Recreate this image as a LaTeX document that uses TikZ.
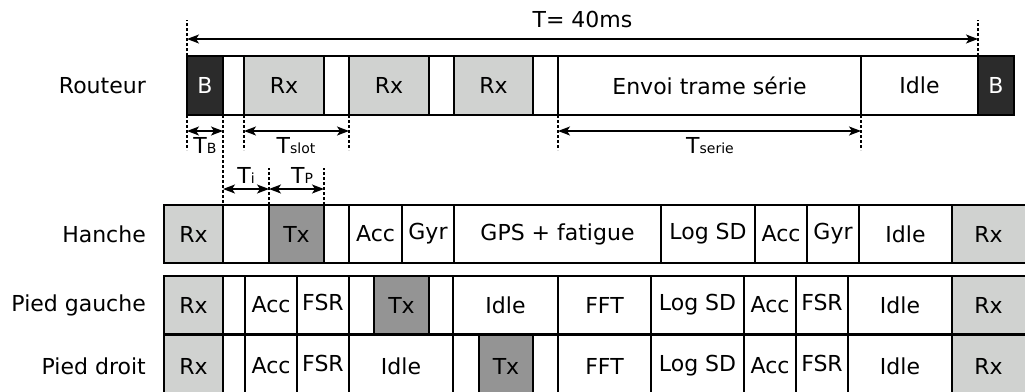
\documentclass[tikz,border=0pt]{standalone}
\usepackage{fontspec}
\setmainfont{DejaVu Sans}
\usetikzlibrary{arrows.meta}
\definecolor{rxgray}{RGB}{208,210,208}
\definecolor{bdark}{RGB}{43,43,43}
\definecolor{txgray}{RGB}{148,148,148}
\newcommand{\slotbox}[7]{\node[#2, minimum width={(#4-#3)*1pt}, minimum height={#6*1pt}] (#1) at (#3,#5) {#7};}
\newcommand{\subtxt}[1]{{\fontsize{14}{14}\selectfont #1}}
\newcommand{\fsr}{FSR\vphantom{g}}
\begin{document}
\begin{tikzpicture}[x=1pt,y=-1pt,
  cell/.style={draw=black, line width=1.8pt, anchor=north west, inner sep=0pt, outer sep=0pt, font=\fontsize{22}{26}\selectfont},
  rx/.style={cell, fill=rxgray},
  tx/.style={cell, fill=txgray},
  bb/.style={cell, fill=bdark, text=white},
  wh/.style={cell, fill=white},
  rowlabel/.style={anchor=east, inner sep=0pt, font=\fontsize{22}{26}\selectfont},
  dimlabel/.style={anchor=base, inner sep=0pt, font=\fontsize{22}{26}\selectfont},
  dimarrow/.style={line width=1.4pt, {Stealth[length=12pt,width=9pt,inset=3pt]}-{Stealth[length=12pt,width=9pt,inset=3pt]}},
  guide/.style={line width=1.1pt, dash pattern=on 3pt off 2pt}]
\useasboundingbox (0,0) rectangle (1025,391);
\clip (0,0) rectangle (1025,391);

% Routeur row
\slotbox{rB1}{bb}{187}{223}{56}{59}{B}
\slotbox{rW1}{wh}{223}{244}{56}{59}{}
\slotbox{rRx1}{rx}{244}{324}{56}{59}{Rx}
\slotbox{rW2}{wh}{324}{349}{56}{59}{}
\slotbox{rRx2}{rx}{349}{429}{56}{59}{Rx}
\slotbox{rW3}{wh}{429}{454}{56}{59}{}
\slotbox{rRx3}{rx}{454}{533}{56}{59}{Rx}
\slotbox{rW4}{wh}{533}{558}{56}{59}{}
\slotbox{rEnv}{wh}{558}{861}{56}{59}{Envoi trame série}
\slotbox{rIdle}{wh}{861}{978}{56}{59}{Idle}
\slotbox{rB2}{bb}{978}{1014}{56}{59}{B}

% Hanche row
\slotbox{hRx1}{rx}{164}{223}{205}{58}{Rx}
\slotbox{hW1}{wh}{223}{269}{205}{58}{}
\slotbox{hTx}{tx}{269}{324}{205}{58}{Tx}
\slotbox{hW2}{wh}{324}{349}{205}{58}{}
\slotbox{hAcc1}{wh}{349}{402}{205}{58}{Acc}
\slotbox{hGyr1}{wh}{402}{454}{205}{58}{Gyr}
\slotbox{hGPS}{wh}{454}{661}{205}{58}{GPS + fatigue}
\slotbox{hLog}{wh}{661}{755}{205}{58}{Log SD}
\slotbox{hAcc2}{wh}{755}{807}{205}{58}{Acc}
\slotbox{hGyr2}{wh}{807}{859}{205}{58}{Gyr}
\slotbox{hIdle}{wh}{859}{952}{205}{58}{Idle}
\slotbox{hRx2}{rx}{952}{1040}{205}{58}{\hspace*{-15pt}Rx}

% Pied gauche row
\slotbox{gRx1}{rx}{164}{223}{276}{58}{Rx}
\slotbox{gW1}{wh}{223}{245}{276}{58}{}
\slotbox{gAcc1}{wh}{245}{297}{276}{58}{Acc}
\slotbox{gFSR1}{wh}{297}{349}{276}{58}{\fsr}
\slotbox{gW2}{wh}{349}{374}{276}{58}{}
\slotbox{gTx}{tx}{374}{429}{276}{58}{Tx}
\slotbox{gW3}{wh}{429}{453}{276}{58}{}
\slotbox{gIdle1}{wh}{453}{558}{276}{58}{Idle}
\slotbox{gFFT}{wh}{558}{651}{276}{58}{FFT}
\slotbox{gLog}{wh}{651}{744}{276}{58}{Log SD}
\slotbox{gAcc2}{wh}{744}{796}{276}{58}{Acc}
\slotbox{gFSR2}{wh}{796}{848}{276}{58}{\fsr}
\slotbox{gIdle2}{wh}{848}{952}{276}{58}{Idle}
\slotbox{gRx2}{rx}{952}{1040}{276}{58}{\hspace*{-15pt}Rx}

% Pied droit row
\slotbox{dRx1}{rx}{164}{223}{335}{62}{Rx}
\slotbox{dW1}{wh}{223}{245}{335}{62}{}
\slotbox{dAcc1}{wh}{245}{297}{335}{62}{Acc}
\slotbox{dFSR1}{wh}{297}{349}{335}{62}{\fsr}
\slotbox{dIdle1}{wh}{349}{453}{335}{62}{Idle}
\slotbox{dW2}{wh}{453}{479}{335}{62}{}
\slotbox{dTx}{tx}{479}{533}{335}{62}{Tx}
\slotbox{dW3}{wh}{533}{558}{335}{62}{}
\slotbox{dFFT}{wh}{558}{651}{335}{62}{FFT}
\slotbox{dLog}{wh}{651}{744}{335}{62}{Log SD}
\slotbox{dAcc2}{wh}{744}{796}{335}{62}{Acc}
\slotbox{dFSR2}{wh}{796}{848}{335}{62}{\fsr}
\slotbox{dIdle2}{wh}{848}{952}{335}{62}{Idle}
\slotbox{dRx2}{rx}{952}{1040}{335}{62}{\hspace*{-15pt}Rx}

% Row labels
\node[rowlabel] (lRout) at (146,86) {Routeur};
\node[rowlabel] (lHan) at (146,234) {Hanche};
\node[rowlabel] (lPG) at (146,305) {Pied gauche};
\node[rowlabel] (lPD) at (146,366) {Pied droit};

% Guide lines
\coordinate (gT1) at (187,20);
\coordinate (gT2) at (978,20);
\coordinate (gB1) at (187,150);
\coordinate (gS1) at (244,150);
\coordinate (gS2) at (349,150);
\coordinate (gE1) at (558,150);
\coordinate (gE2) at (861,150);
\coordinate (gP1) at (269,168);
\coordinate (gP2) at (324,168);
\draw[guide] (rB1.north west) -- (gT1);
\draw[guide] (rB2.north west) -- (gT2);
\draw[guide] (rB1.south west) -- (gB1);
\draw[guide] (rB1.south east) -- (hW1.north west);
\draw[guide] (rRx1.south west) -- (gS1);
\draw[guide] (rRx2.south west) -- (gS2);
\draw[guide] (rEnv.south west) -- (gE1);
\draw[guide] (rEnv.south east) -- (gE2);
\draw[guide] (hTx.north west) -- (gP1);
\draw[guide] (hTx.north east) -- (gP2);

% Dimension arrows
\coordinate (aT1) at (187,39);
\coordinate (aT2) at (978,39);
\coordinate (aB1) at (187,131);
\coordinate (aB2) at (223,131);
\coordinate (aS1) at (244,131);
\coordinate (aS2) at (349,131);
\coordinate (aE1) at (558,131);
\coordinate (aE2) at (861,131);
\coordinate (aI1) at (223,189);
\coordinate (aI2) at (269,189);
\coordinate (aP2) at (324,189);
\draw[dimarrow] (aT1) -- (aT2);
\draw[dimarrow] (aB1) -- (aB2);
\draw[dimarrow] (aS1) -- (aS2);
\draw[dimarrow] (aE1) -- (aE2);
\draw[dimarrow] (aI1) -- (aI2);
\draw[dimarrow] (aI2) -- (aP2);

% Dimension labels
\node[dimlabel] (tT) at (582.5,27) {T= 40ms};
\node[dimlabel] (tB) at (205,153) {T\subtxt{B}};
\node[dimlabel] (tS) at (296,153) {T\subtxt{slot}};
\node[dimlabel] (tE) at (710,153) {T\subtxt{serie}};
\node[dimlabel] (tI) at (246,183) {T\subtxt{i}};
\node[dimlabel] (tP) at (302,183) {T\subtxt{P}};
\end{tikzpicture}
\end{document}
